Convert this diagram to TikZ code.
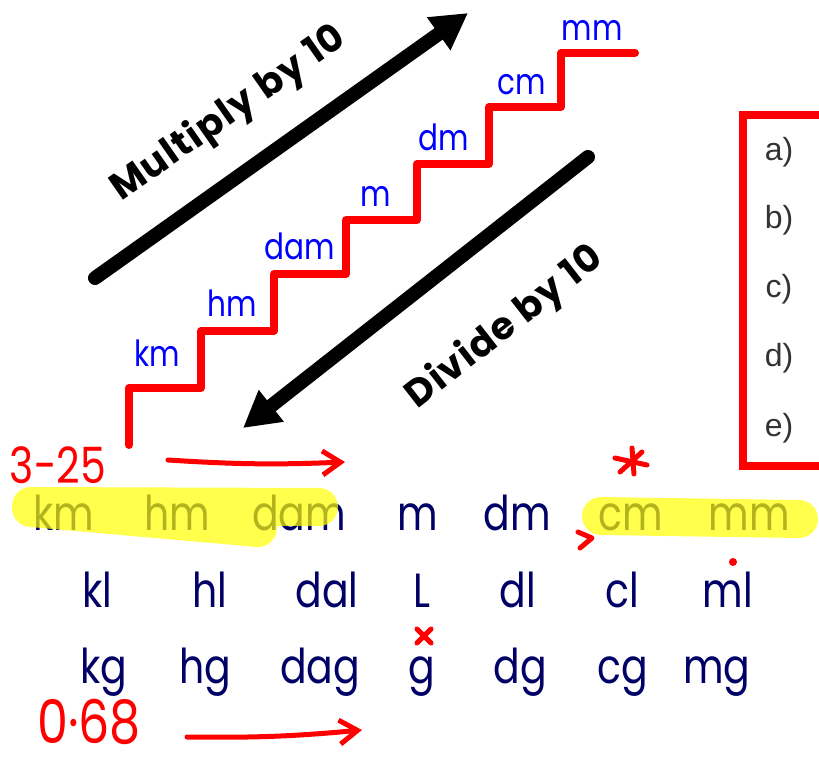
\documentclass[tikz,border=0pt]{standalone}
\usepackage{fontspec}
\usepackage{tikz}
\usetikzlibrary{positioning,arrows}
\usetikzlibrary{arrows.meta}
\usepackage{xcolor}
\newfontfamily\handfont[FakeStretch=0.82]{Poppins}
\newfontfamily\slopefont[LetterSpace=3]{Poppins}
\newfontfamily\boxfont{Liberation Sans}
\definecolor{navy}{RGB}{0,0,102}
\definecolor{stepblue}{RGB}{0,0,255}
\definecolor{hilite}{RGB}{255,255,0}
\definecolor{boxgrey}{RGB}{51,51,51}

\begin{document}
\begin{tikzpicture}[x=0.5pt,y=-0.5pt]
	\useasboundingbox (0,0) rectangle (819,762);
	\tikzstyle{bigarrow}=[line width=7pt, line cap=round, -{Triangle[length=18pt,width=19pt]}]
	\tikzstyle{stair}=[red, line width=4pt, line join=round, line cap=round]
	\tikzstyle{hand}=[red, line width=2.5pt, line cap=round, line join=round]
	\tikzstyle{marker}=[hilite, opacity=0.7, line width=19pt, line cap=round]

	% the staircase
	\draw [stair] (129,445) -- (129,388) -| (201,331) -| (274,274) -| (346,220) -| (417,164) -| (489,107) -| (561,53) -- (635,53);
	\tikzstyle{every node}=[font=\handfont\fontsize{18}{18}\selectfont, text=stepblue, anchor=base, inner sep=0pt]
	\draw (157,366) node (stkm) {km};
	\draw (232,316) node (sthm) {hm};
	\draw (300,259) node (stdam) {dam};
	\draw (376,206) node (stm) {m};
	\draw (444,150) node (stdm) {dm};
	\draw (522,94) node (stcm) {cm};
	\draw (592,40) node (stmm) {mm};

	% up and down arrows
	\coordinate (mulfrom) at (95,278);
	\coordinate (multo) at (468,13);
	\coordinate (divfrom) at (588,157);
	\coordinate (divto) at (243,428);
	\draw [bigarrow] (mulfrom) -- (multo);
	\draw [bigarrow] (divfrom) -- (divto);
	\tikzstyle{every node}=[font=\slopefont\bfseries\fontsize{19}{19}\selectfont, inner sep=0pt]
	\draw (229,114) node (mul) [rotate=35] {Multiply by 10};
	\draw (505,328) node (div) [rotate=38] {Divide by 10};

	% question box
	\draw [red, line width=4pt] (840,115) -| (743,466) -- (840,466);
	\tikzstyle{every node}=[font=\boxfont\fontsize{16}{16}\selectfont, text=boxgrey]
	\draw (779,152) node (qa) {a)};
	\draw (779,220) node (qb) {b)};
	\draw (779,289) node (qc) {c)};
	\draw (779,358) node (qd) {d)};
	\draw (779,428) node (qe) {e)};

	% unit table
	\tikzstyle{every node}=[font=\handfont\fontsize{24}{24}\selectfont, text=navy, anchor=base, inner sep=0pt]
	\draw (64,530) node (km) {km};
	\draw (177,530) node (hm) {hm};
	\draw (299,530) node (dam) {dam};
	\draw (418,530) node (m) {m};
	\draw (517,530) node (dm) {dm};
	\draw (631,530) node (cm) {cm};
	\draw (749,530) node (mm) {mm};
	\draw (97,607) node (kl) {kl};
	\draw (210,607) node (hl) {hl};
	\draw (327,607) node (dal) {dal};
	\draw (422,607) node (L) {L};
	\draw (518,607) node (dl) {dl};
	\draw (622,607) node (cl) {cl};
	\draw (728,607) node (ml) {ml};
	\draw (104,683) node (kg) {kg};
	\draw (205,683) node (hg) {hg};
	\draw (320,683) node (dag) {dag};
	\draw (422,683) node (g) {g};
	\draw (520,683) node (dg) {dg};
	\draw (623,683) node (cg) {cg};
	\draw (717,683) node (mg) {mg};

	% highlighter on top of the letters
	\draw [marker] (31,506) -- (319,507) (31,508) -- (258,528);
	\draw [marker] (601,516) -- (799,519);

	% red pen marks
	\tikzstyle{every node}=[font=\handfont, text=red, inner sep=0pt]
	\draw (58,465) node (num1) [font=\handfont\fontsize{25}{25}\selectfont] {3-25};
	\draw (89,722) node (num2) [font=\handfont\fontsize{30}{30}\selectfont] {0·68};
	\coordinate (p1) at (168,460);
	\coordinate (p2) at (345,462);
	\coordinate (q1) at (187,737);
	\coordinate (q2) at (362,730);
	\draw [hand, -{Straight Barb[length=9pt,width=12pt]}] (p1) to [bend right=3] (p2);
	\draw [hand, -{Straight Barb[length=9pt,width=12pt]}] (q1) to [bend right=3] (q2);
	\draw [hand] (615,458) -- (647,465) (620,472) -- (642,452) (632,448) -- (634,474);
	\draw [hand] (578,532) -- (592,538) -- (580,548);
	\fill [red] (733,562) circle (2pt);
	\draw [hand] (417,629) -- (431,643) (417,643) -- (431,629);
\end{tikzpicture}
\end{document}
